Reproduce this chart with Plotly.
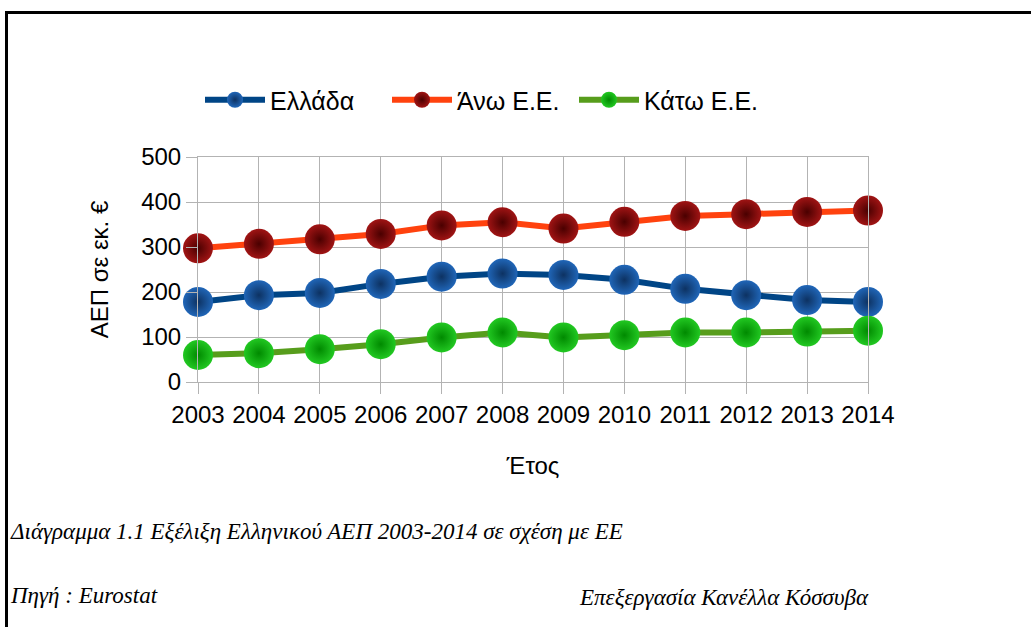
import plotly.graph_objects as go

years = [2003, 2004, 2005, 2006, 2007, 2008, 2009, 2010, 2011, 2012, 2013, 2014]
greece = [178, 193, 198, 218, 234, 241, 238, 227, 207, 193, 182, 178]
upper_eu = [297, 307, 317, 329, 348, 355, 341, 356, 369, 373, 378, 381]
lower_eu = [60, 64, 73, 84, 99, 110, 99, 104, 110, 110, 112, 114]

series_names = ["Ελλάδα", "Άνω Ε.Ε.", "Κάτω Ε.Ε."]
line_colors = ["#004586", "#ff420e", "#579d1c"]
marker_centers = ["#2066b8", "#a01414", "#22c822"]
marker_edges = ["#0d3262", "#4a0000", "#008a00"]

W, H = 1031, 627
L, R, T, B = 198, 868, 157, 382  # plot area pixels

def px(x):
    return (x - L) / (R - L)

def py(y):
    return (B - y) / (B - T)

fig = go.Figure()
for name, vals, lc, mc, me in zip(series_names, [greece, upper_eu, lower_eu],
                                  line_colors, marker_centers, marker_edges):
    fig.add_trace(go.Scatter(
        x=years, y=vals, name=name, mode="lines+markers",
        line=dict(color=lc, width=6),
        marker=dict(size=30, color=mc, line=dict(width=0),
                    gradient=dict(type="radial", color=me)),
        cliponaxis=False,
    ))

axis_font = dict(family="Liberation Sans, Arial, sans-serif", size=24, color="#000000")

fig.update_layout(
    width=W, height=H,
    margin=dict(l=L, r=W - R, t=T, b=H - B, autoexpand=False),
    paper_bgcolor="white", plot_bgcolor="white",
    font=axis_font,
    showlegend=True,
    legend=dict(orientation="h", x=px(200), xanchor="left", y=py(100), yanchor="middle",
                font=dict(family="Liberation Sans, Arial, sans-serif", size=25, color="#000"),
                bgcolor="rgba(0,0,0,0)", itemwidth=60, tracegroupgap=0,
                entrywidth=112, entrywidthmode="pixels"),
    xaxis=dict(range=[2003, 2014], tickmode="array", tickvals=years,
               ticktext=[str(y) for y in years],
               showgrid=True, gridcolor="#b3b3b3", gridwidth=1,
               showline=True, linecolor="#b3b3b3", linewidth=1, mirror=True,
               ticks="outside", ticklen=11, tickcolor="#b3b3b3",
               zeroline=False, tickfont=axis_font,
               title=dict(text="Έτος", font=axis_font, standoff=30)),
    yaxis=dict(range=[0, 500], tickmode="array", tickvals=[0, 100, 200, 300, 400, 500],
               showgrid=True, gridcolor="#b3b3b3", gridwidth=1,
               showline=True, linecolor="#b3b3b3", linewidth=1, mirror=True,
               ticks="outside", ticklen=11, tickcolor="#b3b3b3",
               zeroline=False, tickfont=axis_font,
               title=dict(text="ΑΕΠ σε εκ. €", font=axis_font, standoff=25)),
)

# page frame
fig.add_shape(type="line", xref="paper", yref="paper",
              x0=px(5), x1=px(W + 5), y0=py(12.5), y1=py(12.5),
              line=dict(color="black", width=3))
fig.add_shape(type="line", xref="paper", yref="paper",
              x0=px(6.5), x1=px(6.5), y0=py(11), y1=py(H + 5),
              line=dict(color="black", width=3))

cap_font = dict(family="Liberation Serif, Times New Roman, serif", size=23, color="#000")
fig.add_annotation(xref="paper", yref="paper", x=px(8), y=py(531), xanchor="left",
                   yanchor="middle", showarrow=False, font=cap_font,
                   text="<i>Διάγραμμα 1.1 Εξέλιξη Ελληνικού ΑΕΠ 2003-2014 σε σχέση με ΕΕ</i>")
fig.add_annotation(xref="paper", yref="paper", x=px(8), y=py(595), xanchor="left",
                   yanchor="middle", showarrow=False, font=cap_font,
                   text="<i>Πηγή : Eurostat</i>")
fig.add_annotation(xref="paper", yref="paper", x=px(577), y=py(597), xanchor="left",
                   yanchor="middle", showarrow=False, font=cap_font,
                   text="<i>Επεξεργασία Κανέλλα Κόσσυβα</i>")

fig.write_html("out.html", config={"displayModeBar": False},
               post_script="document.body.style.margin='0';document.body.style.padding='0';")
